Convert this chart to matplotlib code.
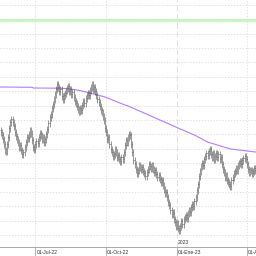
import numpy as np
import matplotlib.pyplot as plt
from matplotlib.ticker import MultipleLocator
from matplotlib.transforms import blended_transform_factory

# daily closes (one per trading day)
closes = [
    168, 165, 161, 156, 150, 149, 156, 163, 172, 178,
    181, 178, 174, 168, 164, 161, 158, 153, 155, 150,
    146, 148, 153, 158, 163, 162, 166, 170, 167, 160,
    153, 151, 156, 159, 157, 163, 167, 165, 161, 163,
    158, 161, 166, 171, 177, 183, 186, 192, 196, 201,
    206, 211, 216, 213, 209, 211, 204, 201, 205, 207,
    210, 212, 214, 209, 211, 206, 208, 203, 199, 197,
    194, 191, 189, 192, 190, 195, 199, 197, 202, 205,
    207, 205, 210, 213, 216, 211, 213, 209, 205, 201,
    198, 194, 190, 188, 184, 180, 172, 168, 161, 163,
    156, 151, 148, 144, 146, 151, 148, 143, 145, 141,
    139, 143, 141, 148, 155, 160, 158, 163, 166, 165,
    156, 148, 140, 136, 131, 127, 130, 135, 133, 131,
    133, 129, 127, 124, 128, 131, 136, 134, 132, 135,
    131, 128, 130, 126, 123, 125, 121, 118, 120, 115,
    111, 107, 108, 103, 98, 95, 90, 86, 88, 81,
    78, 74, 77, 72, 70, 74, 79, 76, 81, 83,
    85, 82, 87, 90, 88, 93, 96, 94, 99, 103,
    110, 116, 124, 129, 134, 137, 135, 141, 144, 147,
    145, 149, 151, 146, 143, 147, 141, 144, 147, 143,
    146, 141, 143, 136, 131, 128, 123, 125, 120, 118,
    116, 114, 120, 123, 127, 129, 132, 130, 135, 137,
    139, 136, 140, 142, 144, 141, 136, 131, 128, 130,
    130, 127, 129, 132, 130,
]
first_open = 170

# moving average (bar index, value)
ma_idx = [0, 29, 30, 55, 64, 73, 82, 96, 113, 117, 137, 163, 178, 190, 211, 234]
ma_vals = [213, 212.7, 212, 211.8, 211, 209.5, 207, 203, 195.5, 194, 184.5, 172, 165, 158, 151, 148]

resistance = 280

tick_idx = [32, 97, 162, 226]
tick_labels = ['01-Jul-22', '01-Oct-22', '01-Ene-23', '01-Abr-23']
year_idx = 162
year_label = '2023'

closes = np.array(closes, dtype=float)
opens = np.concatenate([[first_open], closes[:-1]])
wick = 3.5
highs = np.maximum(opens, closes) + wick
lows = np.minimum(opens, closes) - wick
idx = np.arange(len(closes))

fig = plt.figure(figsize=(2.56, 2.56), dpi=100)
ax = fig.add_axes([0, 9 / 256, 1, 247 / 256])

# grid
ax.yaxis.set_major_locator(MultipleLocator(14.4, offset=7.3))
ax.grid(axis='y', ls=(0, (1.5, 2)), color='#d9d9d9', lw=0.6, zorder=0)
for t in tick_idx:
    if t == year_idx:
        ax.axvline(t, color='#e0e0e0', lw=0.7, ls=(0, (6, 3)), zorder=0)
    else:
        ax.axvline(t, color='#dcdcdc', lw=0.6, ls=(0, (1.5, 2)), zorder=0)

# resistance line
ax.axhline(resistance, color='#c9f5c3', lw=2.4, zorder=1)

# moving average
ax.plot(ma_idx, ma_vals, color='#b57cf7', lw=0.8, zorder=2)

# OHLC bars
bar_col = '#4a4a4a'
ax.vlines(idx, lows, highs, color=bar_col, lw=0.4, zorder=3)
ax.hlines(opens, idx - 0.4, idx, color=bar_col, lw=0.4, zorder=3)
ax.hlines(closes, idx, idx + 0.4, color=bar_col, lw=0.4, zorder=3)

ax.set_xlim(-0.5, 234.5)
ax.set_ylim(53, 300)

for side in ['top', 'left', 'right']:
    ax.spines[side].set_visible(False)
ax.spines['bottom'].set_color('#a8a8a8')
ax.spines['bottom'].set_linewidth(0.7)

ax.set_xticks(tick_idx)
ax.tick_params(axis='x', length=6.5, width=0.6, color='#a8a8a8', labelbottom=False)
ax.tick_params(axis='y', length=0, labelleft=False)

tr = blended_transform_factory(ax.transData, ax.transAxes)
for t, lab in zip(tick_idx, tick_labels):
    ax.text(t + 0.8, -0.012, lab, transform=tr, ha='left', va='top',
            fontsize=3.6, family='Liberation Sans', color='#333333', clip_on=False)
ax.text(year_idx + 0.8, 0.008, year_label, transform=tr, ha='left', va='bottom',
        fontsize=3.6, family='Liberation Sans', color='#333333')

fig.savefig('out.png', dpi=100)
